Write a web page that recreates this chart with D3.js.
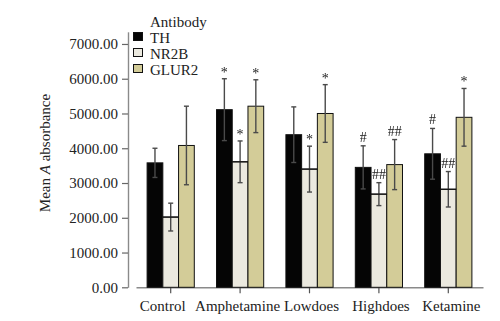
<!DOCTYPE html>
<html>
<head>
<meta charset="utf-8">
<script src="https://cdn.jsdelivr.net/npm/d3@7"></script>
<style>
  html, body { margin: 0; padding: 0; background: #fff; }
  svg { display: block; }
  text { font-family: "Liberation Serif", "DejaVu Serif", serif; fill: #222; }
  .marks { will-change: transform; }
</style>
</head>
<body>
<svg id="chart" width="500" height="321"></svg>
<script>
// Groups, antibodies and measured means with their error bars
const categories = ["Control", "Amphetamine", "Lowdoes", "Highdoes", "Ketamine"];
const series = ["TH", "NR2B", "GLUR2"];
const thMean    = [3580, 5110, 4390, 3450, 3840];
const thErr     = [420, 890, 800, 620, 730];
const nr2bMean  = [2020, 3610, 3400, 2680, 2820];
const nr2bErr   = [400, 600, 660, 330, 510];
const glur2Mean = [4080, 5210, 5000, 3530, 4890];
const glur2Err  = [1130, 760, 830, 720, 830];
// Significance marks above each bar ("" = none)
const thMark    = ["", "*", "", "#", "#"];
const nr2bMark  = ["", "*", "*", "##", "##"];
const glur2Mark = ["", "*", "*", "##", "*"];
const yTicks = [0, 1000, 2000, 3000, 4000, 5000, 6000, 7000];
const legendTitle = "Antibody";
const yLabel = ["Mean ", "A", " absorbance"];

const colors = { TH: "#050505", NR2B: "#ebe9df", GLUR2: "#d3cc98" };
const means = { TH: thMean, NR2B: nr2bMean, GLUR2: glur2Mean };
const errs = { TH: thErr, NR2B: nr2bErr, GLUR2: glur2Err };
const marks = { TH: thMark, NR2B: nr2bMark, GLUR2: glur2Mark };

const rows = [];
categories.forEach((c, i) => series.forEach(s => rows.push({
  cat: c, s, v: means[s][i], e: errs[s][i], m: marks[s][i]
})));

const svg = d3.select("#chart");

const x0 = d3.scaleBand().domain(categories).range([136, 483])
  .paddingInner(0.32).paddingOuter(0.16);
const x1 = d3.scaleBand().domain(series).range([0, x0.bandwidth()]);
const y = d3.scaleLinear().domain([0, 7350]).range([287.3, 31.8]);

// Y axis
const yAxis = svg.append("g").attr("transform", "translate(128,0)")
  .call(d3.axisLeft(y).tickValues(yTicks).tickFormat(d3.format(".2f"))
    .tickSize(6).tickPadding(4).tickSizeOuter(0));
yAxis.select(".domain").attr("stroke", "#8a8a8a").attr("stroke-width", 1.4);
yAxis.selectAll(".tick line").attr("stroke", "#666").attr("stroke-width", 1.2);
yAxis.selectAll(".tick text").attr("font-size", 15)
  .attr("font-family", "Liberation Serif").attr("fill", "#222");

// X axis; labels nudged apart so the long names don't touch
const labelNudge = { Control: -8, Amphetamine: -2.5, Lowdoes: 2, Highdoes: 2, Ketamine: 3 };
const xAxis = svg.append("g").attr("transform", `translate(0,${y(0)})`)
  .call(d3.axisBottom(x0).tickSize(6).tickPadding(7).tickSizeOuter(0));
xAxis.select(".domain").attr("stroke", "#8a8a8a").attr("stroke-width", 1.4);
xAxis.selectAll(".tick line").attr("stroke", "#555").attr("stroke-width", 1.2);
xAxis.selectAll(".tick text").attr("font-size", 15)
  .attr("dx", d => labelNudge[d])
  .attr("font-family", "Liberation Serif").attr("fill", "#222");

// Bars
const bx = d => x0(d.cat) + x1(d.s);
svg.append("g").selectAll("rect").data(rows).join("rect")
  .attr("x", bx)
  .attr("y", d => y(d.v))
  .attr("width", x1.bandwidth())
  .attr("height", d => y(0) - y(d.v))
  .attr("fill", d => colors[d.s])
  .attr("stroke", "#111").attr("stroke-width", 1);

// Error bars with caps
const eg = svg.append("g").attr("stroke", "#4a4a4a").attr("stroke-width", 1.4);
const cx = d => bx(d) + x1.bandwidth() / 2;
rows.forEach(d => {
  const c = cx(d);
  eg.append("line").attr("x1", c).attr("x2", c).attr("y1", y(d.v + d.e)).attr("y2", y(d.v - d.e));
  eg.append("line").attr("x1", c - 2.5).attr("x2", c + 2.5).attr("y1", y(d.v + d.e)).attr("y2", y(d.v + d.e));
  eg.append("line").attr("x1", c - 2.5).attr("x2", c + 2.5).attr("y1", y(d.v - d.e)).attr("y2", y(d.v - d.e));
});
// Value line across the light bars, drawn over the error bar
svg.append("g").selectAll("line").data(rows.filter(d => d.s === "NR2B")).join("line")
  .attr("x1", bx).attr("x2", d => bx(d) + x1.bandwidth())
  .attr("y1", d => y(d.v)).attr("y2", d => y(d.v))
  .attr("stroke", "#111").attr("stroke-width", 1.2);

// Significance marks
svg.append("g").attr("class", "marks").attr("opacity", 0.999)
  .selectAll("text").data(rows.filter(d => d.m)).join("text")
  .attr("x", cx)
  .attr("y", d => y(d.v + d.e) - (d.m === "*" ? 2 : 4))
  .attr("text-anchor", "middle")
  .attr("font-family", "Liberation Serif")
  .attr("fill", "#1a1a1a")
  .attr("font-size", 14)
  .text(d => d.m);

// Legend
const lg = svg.append("g");
lg.append("text").attr("x", 150).attr("y", 27).attr("font-size", 15).text(legendTitle);
series.forEach((s, i) => {
  const yy = 37 + i * 16;
  lg.append("rect").attr("x", 133.5).attr("y", yy - 4.5).attr("width", 9).attr("height", 8)
    .attr("fill", colors[s]).attr("stroke", "#111").attr("stroke-width", 1);
  lg.append("text").attr("x", 150).attr("y", yy + 5.5).attr("font-size", 15).text(s);
});

// Y axis title
svg.append("text")
  .attr("transform", "translate(50,153) rotate(-90)")
  .attr("text-anchor", "middle").attr("font-size", 15)
  .call(t => {
    t.append("tspan").text(yLabel[0]);
    t.append("tspan").attr("font-style", "italic").text(yLabel[1]);
    t.append("tspan").text(yLabel[2]);
  });
</script>
</body>
</html>
